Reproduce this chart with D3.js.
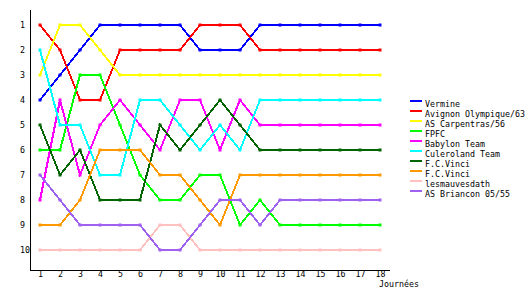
<!DOCTYPE html>
<html>
  <head>
    <meta charset="UTF-8" />
    <title>Classement</title>
    <script src="https://d3js.org/d3.v7.min.js"></script>
    <style>
      body { margin: 0; background: #fff; }
      svg text { font-family: "DejaVu Sans Mono", monospace; font-size: 8.3px; fill: #000; }
    </style>
  </head>
  <body>
    <div id="chart"></div>
    <script>
      // journées 1..18
      const days = d3.range(1, 19);
      const ranks = d3.range(1, 11);

      const teams = [
        "Vermine",
        "Avignon Olympique/63",
        "AS Carpentras/56",
        "FPFC",
        "Babylon Team",
        "Culeroland Team",
        "F.C.Vinci",
        "F.C.Vinci",
        "lesmauvesdath",
        "AS Briancon 05/55",
      ];
      const colors = [
        "#0000ff", "#ff0000", "#ffff00", "#00ff00", "#ff00ff",
        "#00ffff", "#006400", "#ff9900", "#ffc0c0", "#a060f0",
      ];

      // classement par journée
      const vermine    = [4, 3, 2, 1, 1, 1, 1, 1, 2, 2, 2, 1, 1, 1, 1, 1, 1, 1];
      const avignon    = [1, 2, 4, 4, 2, 2, 2, 2, 1, 1, 1, 2, 2, 2, 2, 2, 2, 2];
      const carpentras = [3, 1, 1, 2, 3, 3, 3, 3, 3, 3, 3, 3, 3, 3, 3, 3, 3, 3];
      const fpfc       = [6, 6, 3, 3, 5, 7, 8, 8, 7, 7, 9, 8, 9, 9, 9, 9, 9, 9];
      const babylon    = [8, 4, 7, 5, 4, 5, 6, 4, 4, 6, 4, 5, 5, 5, 5, 5, 5, 5];
      const culeroland = [2, 5, 5, 7, 7, 4, 4, 5, 6, 5, 6, 4, 4, 4, 4, 4, 4, 4];
      const vinci1     = [5, 7, 6, 8, 8, 8, 5, 6, 5, 4, 5, 6, 6, 6, 6, 6, 6, 6];
      const vinci2     = [9, 9, 8, 6, 6, 6, 7, 7, 8, 9, 7, 7, 7, 7, 7, 7, 7, 7];
      const mauves     = [10, 10, 10, 10, 10, 10, 9, 9, 10, 10, 10, 10, 10, 10, 10, 10, 10, 10];
      const briancon   = [7, 8, 9, 9, 9, 9, 10, 10, 9, 8, 8, 9, 8, 8, 8, 8, 8, 8];

      const series = [vermine, avignon, carpentras, fpfc, babylon, culeroland, vinci1, vinci2, mauves, briancon]
        .map((values, i) => ({ name: teams[i], color: colors[i], values }));

      const width = 530, height = 300;
      const svg = d3.select("#chart").append("svg")
        .attr("width", width).attr("height", height);

      const x = d3.scaleLinear().domain([1, 18]).range([40, 380]);
      const y = d3.scaleLinear().domain([1, 10]).range([25, 250]);

      // axes
      svg.append("line").attr("x1", 30.5).attr("x2", 30.5).attr("y1", 10).attr("y2", 270.5)
        .attr("stroke", "#000");
      svg.append("line").attr("x1", 30).attr("x2", 390).attr("y1", 270.5).attr("y2", 270.5)
        .attr("stroke", "#000");

      const xAxis = svg.append("g").attr("transform", "translate(0,270)")
        .call(d3.axisBottom(x).tickValues(days).tickSize(0).tickPadding(1).tickFormat(d3.format("d")));
      xAxis.select(".domain").remove();
      xAxis.attr("font-family", null).attr("font-size", null);

      const yAxis = svg.append("g").attr("transform", "translate(20,0)")
        .call(d3.axisLeft(y).tickValues(ranks).tickSize(0).tickFormat(d3.format("d")));
      yAxis.select(".domain").remove();
      yAxis.selectAll("text").attr("x", 0).attr("dy", "0.32em").attr("text-anchor", "start");
      yAxis.attr("font-family", null).attr("font-size", null);

      svg.append("text").attr("x", 379).attr("y", 287).text("Journées");

      // lignes
      const line = d3.line().x((d, i) => x(days[i])).y(d => y(d));
      const g = svg.append("g");
      series.forEach(s => {
        g.append("path").attr("d", line(s.values))
          .attr("fill", "none").attr("stroke", s.color).attr("stroke-width", 2)
          .attr("shape-rendering", "crispEdges");
        g.selectAll(null).data(s.values).enter().append("rect")
          .attr("x", (d, i) => x(days[i]) - 1.5).attr("y", d => y(d) - 1.5)
          .attr("width", 3).attr("height", 3).attr("fill", s.color);
      });

      // légende
      const legend = svg.append("g").attr("transform", "translate(410,101)");
      series.forEach((s, i) => {
        legend.append("line").attr("x1", 0).attr("x2", 12)
          .attr("y1", i * 10).attr("y2", i * 10)
          .attr("stroke", s.color).attr("stroke-width", 2);
        legend.append("text").attr("x", 15).attr("y", i * 10 + 6).text(s.name);
      });
    </script>
  </body>
</html>
